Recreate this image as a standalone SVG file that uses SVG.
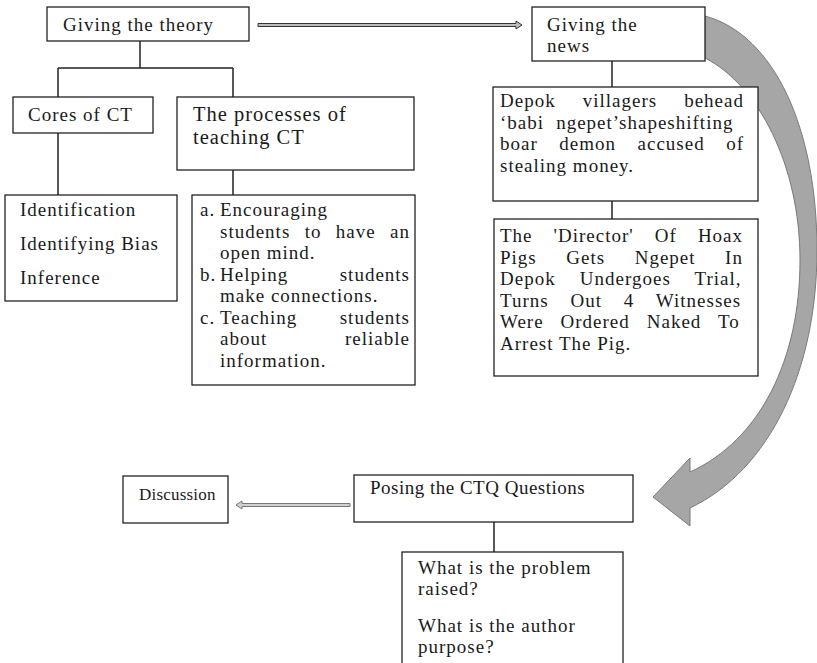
<svg xmlns="http://www.w3.org/2000/svg" width="817" height="663" viewBox="0 0 817 663">
<style>
text{font-family:"Liberation Serif","Times New Roman",serif;font-size:19px;letter-spacing:1px;fill:#1a1a1a}
.box{fill:#fff;stroke:#222;stroke-width:1.3}
.ln{fill:none;stroke:#222;stroke-width:1.5}
.big{font-size:20.5px}
.end{text-anchor:end}
.thin{fill:#bdbdbd;stroke:#333;stroke-width:1}
.curve{fill:#a6a6a6;stroke:#7a7a7a;stroke-width:1}
</style>
<rect width="817" height="663" fill="#fff"/>
<g id="connectors">
<path class="ln" d="M140,41 V68 M58,68 H233 M58,68 V97 M233,68 V97 M58,133 V195 M233,170 V195 M612,61 V87 M612,201 V219 M494,522 V552"/>
<path class="thin" d="M258,23.5 H516 V21 L522,25 L516,29 V26.5 H258 Z"/>
<path class="thin" style="fill:#d0d0d0;stroke:#777" d="M350,503.5 H242 V501 L236,505 L242,509 V506.5 H350 Z"/>
<path class="curve" d="M705,16 C775,35 817,130 817,250 C817,370 770,470 690,508 L690,526 L653,497 L690,458 L690,472 C760,440 800,360 800,260 C800,165 758,85 705,58 Z"/>
</g>
<g id="theory"><rect class="box" x="47" y="7" width="202" height="34"/><text x="63" y="31">Giving the theory</text></g>
<g id="news"><rect class="box" x="532" y="7" width="173" height="54"/><text x="547" y="31">Giving the</text><text x="547" y="52">news</text></g>
<g id="cores"><rect class="box" x="13" y="97" width="140" height="36"/><text x="28" y="121">Cores of CT</text></g>
<g id="processes"><rect class="box" x="177" y="97" width="237" height="73"/><text class="big" x="193" y="121">The processes of</text><text class="big" x="193" y="144">teaching CT</text></g>
<g id="cores-list"><rect class="box" x="5" y="195" width="172" height="106"/><text x="20" y="216">Identification</text><text x="20" y="250">Identifying Bias</text><text x="20" y="284">Inference</text></g>
<g id="process-list"><rect class="box" x="192" y="195" width="223" height="190"/>
<text x="200" y="216">a.</text><text x="220" y="216">Encouraging</text>
<text x="220" y="237.5" style="word-spacing:8.6px">students to have an</text>
<text x="220" y="259">open mind.</text>
<text x="200" y="280.5">b.</text><text x="220" y="280.5">Helping</text><text class="end" x="410" y="280.5">students</text>
<text x="220" y="302">make connections.</text>
<text x="200" y="323.5">c.</text><text x="220" y="323.5">Teaching</text><text class="end" x="410" y="323.5">students</text>
<text x="220" y="345">about</text><text class="end" x="410" y="345">reliable</text>
<text x="220" y="366.5">information.</text>
</g>
<g id="news-1"><rect class="box" x="493" y="87" width="265" height="114"/>
<text x="500" y="107" style="word-spacing:21.3px">Depok villagers behead</text>
<text x="500" y="128.5" style="word-spacing:6.4px">‘babi ngepet’shapeshifting</text>
<text x="500" y="150" style="word-spacing:15.8px">boar demon accused of</text>
<text x="500" y="171.5">stealing money.</text>
</g>
<g id="news-2"><rect class="box" x="494" y="219" width="264" height="157"/>
<text x="500" y="242" style="word-spacing:15.3px">The 'Director' Of Hoax</text>
<text x="500" y="263.5" style="word-spacing:23.8px">Pigs Gets Ngepet In</text>
<text x="500" y="285" style="word-spacing:18.4px">Depok Undergoes Trial,</text>
<text x="500" y="306.5" style="word-spacing:16.1px">Turns Out 4 Witnesses</text>
<text x="500" y="328" style="word-spacing:11.2px">Were Ordered Naked To</text>
<text x="500" y="349.5">Arrest The Pig.</text>
</g>
<g id="discussion"><rect class="box" x="123" y="476" width="105" height="47"/><text x="139" y="500" style="font-size:17px;letter-spacing:0.2px">Discussion</text></g>
<g id="posing"><rect class="box" x="354" y="475" width="279" height="47"/><text x="370" y="494" style="letter-spacing:0.5px">Posing the CTQ Questions</text></g>
<g id="questions"><rect class="box" x="402" y="552" width="221" height="120"/>
<text x="418" y="574">What is the problem</text><text x="418" y="595">raised?</text>
<text x="418" y="632">What is the author</text><text x="418" y="653">purpose?</text>
</g>
</svg>
